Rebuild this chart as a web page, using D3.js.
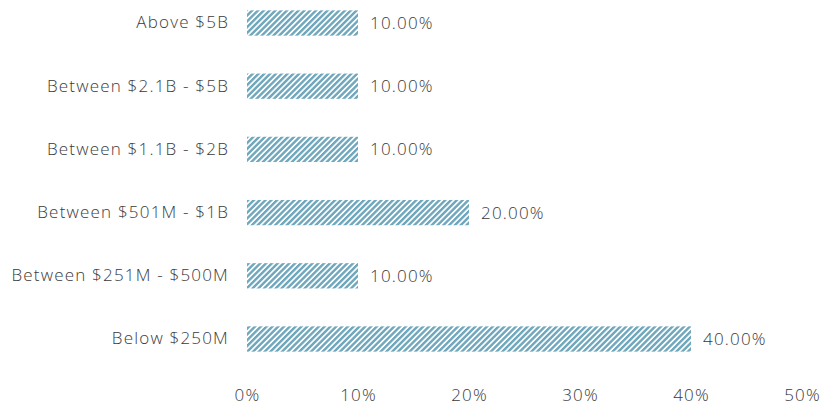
<!DOCTYPE html>
<html><head><meta charset="utf-8">
<script src="https://cdn.jsdelivr.net/npm/d3@7"></script>
<style>body{margin:0;background:#fff}text{font-family:"Open Sans",sans-serif;font-weight:300}</style>
</head><body><svg id="c" width="824" height="405"></svg>
<script>
const categories = ["Above $5B","Between $2.1B - $5B","Between $1.1B - $2B","Between $501M - $1B","Between $251M - $500M","Below $250M"];
const values = [10,10,10,20,10,40];
const ticks = [0,10,20,30,40,50];

const FONT = "'Open Sans',sans-serif";
const LS = "1.2px";
const svg = d3.select("#c");
const x = d3.scaleLinear().domain([0,50]).range([247,802]);
const y = d3.scaleBand().domain(categories).range([-8.6,370.6]).paddingInner(0.6).paddingOuter(0.3);

const defs = svg.append("defs");
const pat = defs.append("pattern").attr("id","hatch").attr("patternUnits","userSpaceOnUse")
  .attr("width",4.1).attr("height",4.1).attr("patternTransform","rotate(45)");
pat.append("rect").attr("width",4.1).attr("height",4.1).attr("fill","#fff");
pat.append("rect").attr("width",2.4).attr("height",4.1).attr("fill","#6fa7bd");

svg.selectAll("rect.bar").data(values).join("rect").attr("class","bar")
  .attr("x",x(0)).attr("y",(d,i)=>y(categories[i]))
  .attr("width",d=>x(d)-x(0)).attr("height",y.bandwidth())
  .attr("fill","url(#hatch)");

svg.selectAll("text.val").data(values).join("text").attr("class","val")
  .attr("x",d=>x(d)+12).attr("y",(d,i)=>y(categories[i])+y.bandwidth()/2)
  .attr("dy","0.35em").attr("font-size",17).attr("fill","#3a3a3a")
  .style("font-family",FONT).style("font-weight",300).style("letter-spacing",LS)
  .text(d=>d.toFixed(2)+"%");

const yAxis = d3.axisLeft(y).tickSize(0).tickPadding(18);
const gy = svg.append("g").attr("transform",`translate(${x(0)},0)`).call(yAxis);
gy.select(".domain").remove();
gy.selectAll("text").attr("font-size",17).attr("fill","#3a3a3a").style("font-family",FONT).style("font-weight",300).style("letter-spacing",LS);

const xAxis = d3.axisBottom(x).tickValues(ticks).tickSize(0).tickPadding(0).tickFormat(d=>d+"%");
const gx = svg.append("g").attr("transform","translate(0,389)").call(xAxis);
gx.select(".domain").remove();
gx.selectAll("text").attr("font-size",17).attr("fill","#3a3a3a").style("font-family",FONT).style("font-weight",300).style("letter-spacing",LS);
</script></body></html>
